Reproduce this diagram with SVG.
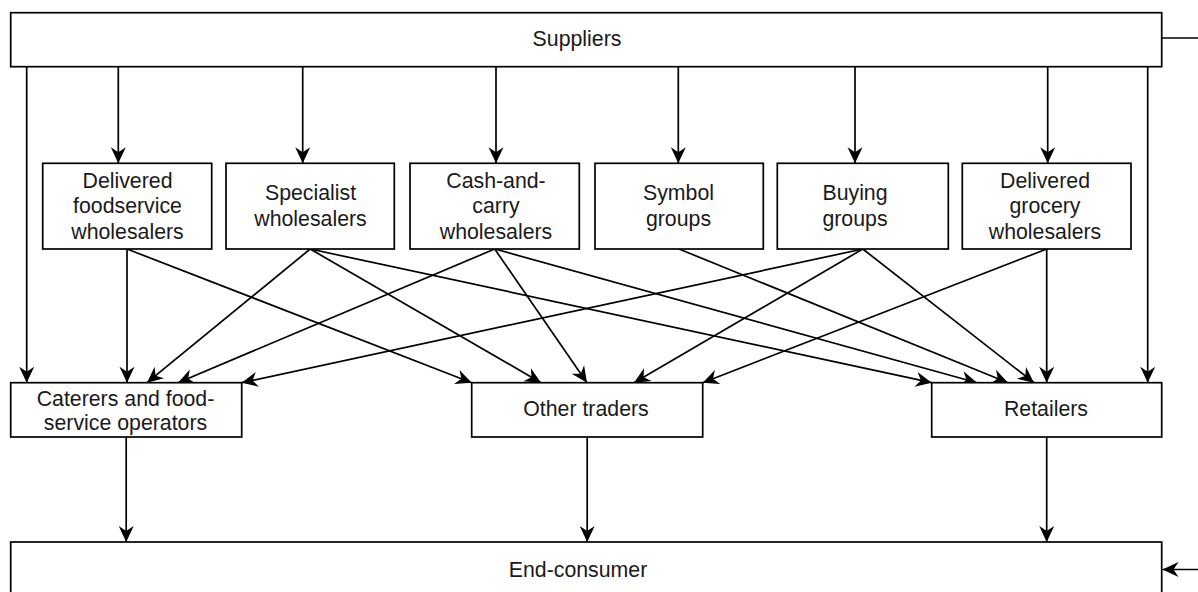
<svg xmlns="http://www.w3.org/2000/svg" width="1198" height="592" viewBox="0 0 1198 592">
<style>
.box{fill:#fff;stroke:#000;stroke-width:1.7}
.t{font-family:"Liberation Sans",Arial,sans-serif;font-size:21.3px;fill:#1a1a1a;text-anchor:middle}
.c{fill:none;stroke:#000;stroke-width:1.7;marker-end:url(#arr)}
.p{fill:none;stroke:#000;stroke-width:1.7}
</style>
<defs>
<marker id="arr" markerUnits="userSpaceOnUse" viewBox="-18 -9 20 18" markerWidth="20" markerHeight="18" refX="0" refY="0" orient="auto">
<path d="M0,0 L-16,-7.5 L-11,0 L-16,7.5 Z" fill="#000"/>
</marker>
</defs>
<rect width="1198" height="592" fill="#fff"/>
<g id="connectors">
<path class="c" d="M26.7,66.7 V382.7"/>
<path class="c" d="M118.3,66.7 V163.3"/>
<path class="c" d="M302.7,66.7 V163.3"/>
<path class="c" d="M496,66.7 V163.3"/>
<path class="c" d="M678.3,66.7 V163.3"/>
<path class="c" d="M855,66.7 V163.3"/>
<path class="c" d="M1047.7,66.7 V163.3"/>
<path class="c" d="M1147.7,66.7 V382.7"/>
<path class="c" d="M1161.7,38 H1215 V569.5 H1162.5"/>
<path class="c" d="M127,249 V382.7"/>
<path class="c" d="M127,249 L471.7,382.7"/>
<path class="c" d="M310.2,249 L147,382.7"/>
<path class="c" d="M310.2,249 L541,382.7"/>
<path class="c" d="M310.2,249 L931.7,382.7"/>
<path class="c" d="M494.7,249 L178,382.7"/>
<path class="c" d="M494.7,249 L587,382.7"/>
<path class="c" d="M494.7,249 L977,382.7"/>
<path class="c" d="M679,249 L1008,382.7"/>
<path class="c" d="M862.8,249 L241.7,382.7"/>
<path class="c" d="M862.8,249 L634,382.7"/>
<path class="c" d="M862.8,249 L1034,382.7"/>
<path class="c" d="M1046.7,249 L702.7,382.7"/>
<path class="c" d="M1046.7,249 V382.7"/>
<path class="c" d="M126.2,437 V542"/>
<path class="c" d="M587.2,437 V542"/>
<path class="c" d="M1046.7,437 V542"/>
</g>
<g id="suppliers">
<rect class="box" x="10.7" y="12.7" width="1151" height="54"/>
<text class="t" x="577" y="45.5">Suppliers</text>
</g>
<g id="delivered-foodservice">
<rect class="box" x="42.7" y="163.3" width="169" height="85.7"/>
<text class="t" x="127.5" y="187.5">Delivered</text>
<text class="t" x="127.5" y="213.1">foodservice</text>
<text class="t" x="127.5" y="238.7">wholesalers</text>
</g>
<g id="specialist">
<rect class="box" x="226" y="163.3" width="168.3" height="85.7"/>
<text class="t" x="310.5" y="200.2">Specialist</text>
<text class="t" x="310.5" y="225.8">wholesalers</text>
</g>
<g id="cash-and-carry">
<rect class="box" x="410" y="163.3" width="169.3" height="85.7"/>
<text class="t" x="496" y="187.5">Cash-and-</text>
<text class="t" x="496" y="213.1">carry</text>
<text class="t" x="496" y="238.7">wholesalers</text>
</g>
<g id="symbol-groups">
<rect class="box" x="595" y="163.3" width="168.3" height="85.7"/>
<text class="t" x="678.5" y="200.2">Symbol</text>
<text class="t" x="678.5" y="225.8">groups</text>
</g>
<g id="buying-groups">
<rect class="box" x="777.3" y="163.3" width="171" height="85.7"/>
<text class="t" x="855" y="200.2">Buying</text>
<text class="t" x="855" y="225.8">groups</text>
</g>
<g id="delivered-grocery">
<rect class="box" x="962.3" y="163.3" width="168.7" height="85.7"/>
<text class="t" x="1045" y="187.5">Delivered</text>
<text class="t" x="1045" y="213.1">grocery</text>
<text class="t" x="1045" y="238.7">wholesalers</text>
</g>
<g id="caterers">
<rect class="box" x="10.7" y="382.7" width="231" height="54.3"/>
<text class="t" x="125.5" y="405.6">Caterers and food-</text>
<text class="t" x="125.5" y="430.2">service operators</text>
</g>
<g id="other-traders">
<rect class="box" x="471.7" y="382.7" width="231" height="54.3"/>
<text class="t" x="586" y="416.2">Other traders</text>
</g>
<g id="retailers">
<rect class="box" x="931.7" y="382.7" width="230" height="54.3"/>
<text class="t" x="1046" y="416.2">Retailers</text>
</g>
<g id="end-consumer">
<rect class="box" x="10.7" y="542" width="1151" height="55"/>
<text class="t" x="578" y="577">End-consumer</text>
</g>
</svg>
